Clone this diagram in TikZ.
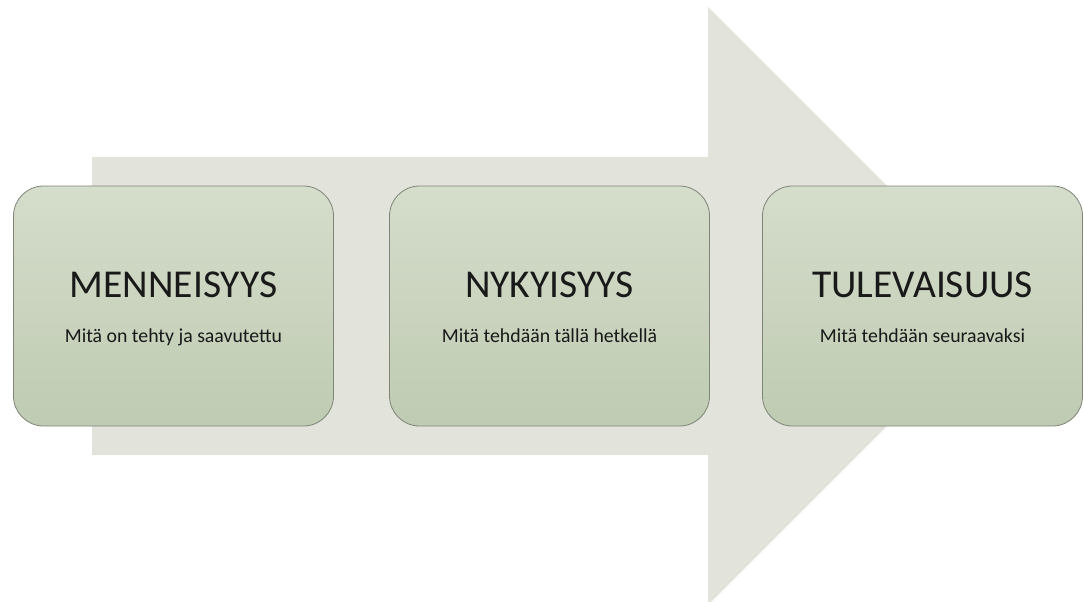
\documentclass[tikz,border=0pt]{standalone}
\usepackage{fontspec}
\setmainfont{Carlito}
\usepackage{tikz}
\usetikzlibrary{positioning}
\definecolor{arrowgray}{HTML}{E2E4DC}
\definecolor{stagetop}{HTML}{D5DDCB}
\definecolor{stagebottom}{HTML}{BFCBB2}
\definecolor{stageline}{HTML}{7E8478}
\tikzset{
    stage/.style={
           rectangle,
           rounded corners=30pt,
           draw=stageline, line width=0.8pt,
           top color=stagetop, bottom color=stagebottom,
           minimum width=320pt,
           minimum height=240pt,
           inner sep=0pt,
           },
    heading/.style={
           anchor=base,
           text=black!90,
           font=\fontsize{39.5}{44}\selectfont,
           },
    subheading/.style={
           anchor=base,
           text=black!90,
           font=\fontsize{19.8}{24}\selectfont,
           },
}
\begin{document}
\begin{tikzpicture}[x=1pt,y=-1pt]
  \useasboundingbox (0,0) rectangle (1084,602);
  % big background arrow
  \fill[arrowgray] (92,157) -- (708,157) -- (708,7) -- (1007,306)
    -- (708,605) -- (708,455) -- (92,455) -- cycle;
  % the three stages
  \node[stage] (past) at (173.5,306) {};
  \node[stage,
 right of=past,
 node distance=376pt] (now) {};
  \node[stage,
 right of=now,
 node distance=373pt] (future) {};
  % texts
  \node[heading] (pastH) at ([yshift=9pt]past.center) {MENNEISYYS};
  \node[subheading] (pastS) at ([yshift=-36pt]past.center) {Mitä on tehty ja saavutettu};
  \node[heading] (nowH) at ([yshift=9pt]now.center) {NYKYISYYS};
  \node[subheading] (nowS) at ([yshift=-36pt]now.center) {Mitä tehdään tällä hetkellä};
  \node[heading] (futureH) at ([yshift=9pt]future.center) {TULEVAISUUS};
  \node[subheading] (futureS) at ([yshift=-36pt]future.center) {Mitä tehdään seuraavaksi};
\end{tikzpicture}
\end{document}
